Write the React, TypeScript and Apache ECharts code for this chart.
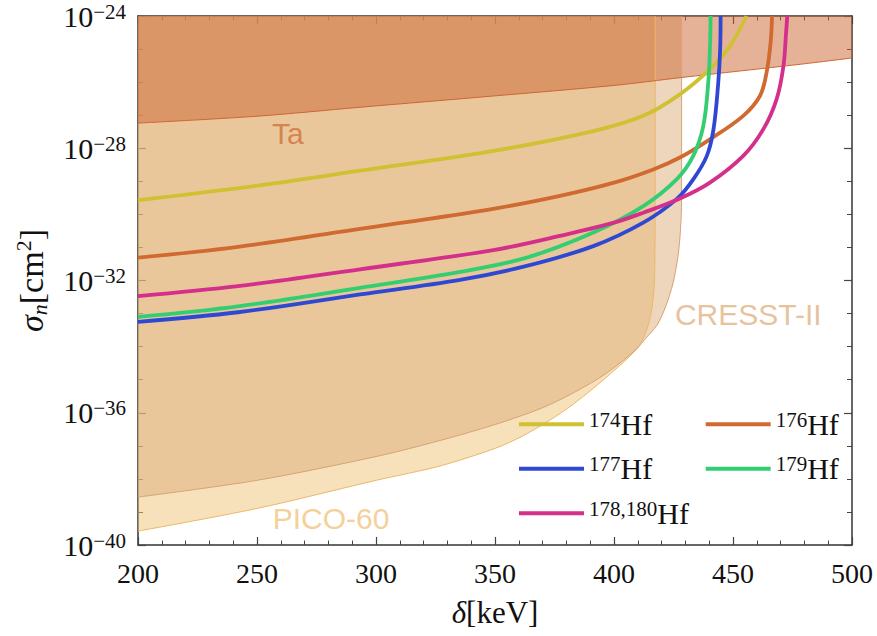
import React, { useEffect, useRef } from "react";
import * as echarts from "echarts";

// x: delta [keV], y: log10(sigma_n / cm^2)
const xTicks = [200, 250, 300, 350, 400, 450, 500];
const yTicks = [-40, -36, -32, -28, -24];

const taBound = [
  [200, -27.24], [250.3, -27.03], [293.3, -26.76], [349.3, -26.42], [400, -26.1],
  [428.4, -25.86], [478.2, -25.46], [500, -25.27],
];
const cresstBound = [
  [200, -38.55], [250.3, -38.04], [300.3, -37.32], [326.9, -36.84], [350.3, -36.35],
  [368.9, -35.88], [382.9, -35.4], [396.9, -34.8], [409.5, -34.07], [413.4, -33.74],
  [418.1, -33.35], [421.8, -32.77], [424.8, -32.08], [426.9, -31.26], [427.9, -30.5],
  [428.4, -29.57], [428.4, -24],
];
const picoBound = [
  [200, -39.58], [250.3, -38.89], [300.3, -38.04], [326.9, -37.61], [350.3, -37.07],
  [361.7, -36.7], [373.1, -36.22], [382.9, -35.74], [396.9, -34.92], [409.5, -34.07],
  [413.7, -33.5], [415.8, -32.89], [416.9, -32.14], [417.2, -31.08], [417.3, -29.57],
  [417.3, -24],
];
const hf174 = [
  [200, -29.57], [250.3, -29.13], [293.3, -28.68], [349.3, -28.08], [391.3, -27.48],
  [412.3, -27.02], [427.7, -26.37], [440.3, -25.61], [448.7, -24.91], [455.7, -24.0],
];
const hf176 = [
  [200, -31.31], [242, -30.98], [293.3, -30.44], [349.3, -29.83], [377.3, -29.44],
  [400, -29.04], [416.5, -28.64], [427.7, -28.28], [440.3, -27.73], [454.3, -27.02],
  [461.3, -26.42], [464.1, -25.71], [465.8, -24.81], [466.4, -24.0],
];
const hf177 = [
  [200, -33.25], [242, -32.96], [293.3, -32.42], [335.3, -31.98], [363.3, -31.56],
  [391.3, -30.96], [412.3, -30.25], [426.3, -29.54], [433.3, -28.94], [439.0, -28.23],
  [441.8, -27.43], [443.8, -26.02], [444.6, -25.01], [444.8, -24.0],
];
const hf179 = [
  [200, -33.1], [242, -32.78], [293.3, -32.22], [335.3, -31.74], [363.3, -31.31],
  [391.3, -30.55], [412.3, -29.75], [426.3, -28.94], [433.3, -28.23], [437.5, -27.33],
  [439.6, -26.02], [440.3, -25.01], [440.6, -24.0],
];
const hf178180 = [
  [200, -32.47], [242, -32.17], [293.3, -31.66], [349.3, -31.08], [377.3, -30.65],
  [400, -30.25], [412.3, -29.95], [427.7, -29.52], [440.3, -29.04], [454.3, -28.23],
  [462.7, -27.43], [468.3, -26.52], [471.2, -25.51], [472.3, -24.5], [472.8, -24.0],
];
const annotations = [
  { name: "Ta", value: [256.3, -27.54], color: "#D0703A" },
  { name: "CRESST-II", value: [425.6, -33.02], color: "#E2B283" },
  { name: "PICO-60", value: [256.6, -39.21], color: "#F1C47E" },
];

const hfSeries = [
  { name: "174", data: hf174, color: "#CFC132" },
  { name: "176", data: hf176, color: "#D06A30" },
  { name: "177", data: hf177, color: "#2E48D4" },
  { name: "179", data: hf179, color: "#33CE72" },
  { name: "178,180", data: hf178180, color: "#D42F8A" },
];

const SERIF = "'Liberation Serif', 'DejaVu Serif', serif";
const SANS = "'Liberation Sans', Arial, sans-serif";

export default function App() {
  const ref = useRef<HTMLDivElement>(null);
  useEffect(() => {
    if (!ref.current) return;
    const chart = echarts.init(ref.current, null, { renderer: "svg" });
    const axisLine = { show: true, onZero: false, lineStyle: { color: "#333", width: 1.5 } };
    const xTick = { show: true, inside: true, length: 8, lineStyle: { color: "#444", width: 1.2 } };
    const xMinor = { show: true, splitNumber: 5, length: 4.5, lineStyle: { color: "#444", width: 1 } };
    const yMinor = { show: true, splitNumber: 4, length: 5, lineStyle: { color: "#444", width: 1 } };
    const legendRich = {
      s: { fontSize: 21, fontFamily: SERIF, color: "#111", lineHeight: 10, verticalAlign: "top" },
      h: { fontSize: 30, fontFamily: SERIF, color: "#111", lineHeight: 30, verticalAlign: "middle" },
    };
    const legendCommon = {
      orient: "vertical",
      padding: 0,
      itemWidth: 65,
      itemHeight: 4,
      itemGap: 14.5,
      icon: "rect",
      top: 409.3,
      formatter: (n: string) => `{s|${n}}{h|Hf}`,
      textStyle: { rich: legendRich },
      selectedMode: false,
    };
    const option: any = {
      animation: false,
      backgroundColor: "#fff",
      grid: { left: 138, top: 16, right: 25, bottom: 91, containLabel: false },
      legend: [
        { ...legendCommon, left: 519, data: ["174", "177", "178,180"] },
        { ...legendCommon, left: 705.7, data: ["176", "179"] },
      ],
      xAxis: [
        {
          type: "value", min: xTicks[0], max: xTicks[xTicks.length - 1], interval: 50,
          axisLine, splitLine: { show: false }, axisTick: xTick, minorTick: xMinor,
          axisLabel: { fontFamily: SERIF, fontSize: 28, color: "#111", margin: 14 },
          name: "{d|δ}{b|[keV]}",
          nameLocation: "middle",
          nameGap: 52,
          nameTextStyle: {
            rich: {
              d: { fontFamily: SERIF, fontStyle: "italic", fontSize: 31, color: "#111" },
              b: { fontFamily: SERIF, fontSize: 31, color: "#111" },
            },
          },
        },
        {
          type: "value", position: "top", min: 200, max: 500, interval: 50,
          axisLine, splitLine: { show: false }, axisTick: xTick, minorTick: xMinor,
          axisLabel: { show: false },
        },
      ],
      yAxis: [
        {
          type: "value", min: yTicks[0], max: yTicks[yTicks.length - 1], interval: 4,
          axisLine, splitLine: { show: false }, axisTick: xTick, minorTick: yMinor,
          axisLabel: {
            margin: 12,
            formatter: (v: number) => `{b|10}{e|−${Math.abs(v)}}`,
            rich: {
              b: { fontFamily: SERIF, fontSize: 30, color: "#111", lineHeight: 30, verticalAlign: "middle" },
              e: { fontFamily: SERIF, fontSize: 21, color: "#111", lineHeight: 15, verticalAlign: "top" },
            },
          },
          name: "{s|σ}{n|n}{b|[cm}{p|2}{b|]}",
          nameLocation: "middle",
          nameRotate: 90,
          nameGap: 88,
          nameTextStyle: {
            rich: {
              s: { fontFamily: SERIF, fontStyle: "italic", fontSize: 34, color: "#111", lineHeight: 38, verticalAlign: "middle" },
              n: { fontFamily: SERIF, fontStyle: "italic", fontSize: 22, color: "#111", lineHeight: 12, verticalAlign: "bottom" },
              b: { fontFamily: SERIF, fontSize: 34, color: "#111", lineHeight: 38, verticalAlign: "middle" },
              p: { fontFamily: SERIF, fontSize: 22, color: "#111", lineHeight: 14, verticalAlign: "top" },
            },
          },
        },
        {
          type: "value", position: "right", min: -40, max: -24, interval: 4,
          axisLine, splitLine: { show: false }, axisTick: xTick, minorTick: yMinor,
          axisLabel: { show: false },
        },
      ],
      series: [
        {
          name: "PICO-60 region", type: "line", data: picoBound, smooth: 0.3, showSymbol: false,
          lineStyle: { color: "#EDB766", width: 1 },
          areaStyle: { origin: "end", color: "rgba(240,195,120,0.5)", opacity: 1 },
          z: 1, silent: true,
        },
        {
          name: "CRESST-II region", type: "line", data: cresstBound, smooth: 0.3, showSymbol: false,
          lineStyle: { color: "#D9A272", width: 1 },
          areaStyle: { origin: "end", color: "rgba(219,173,121,0.5)", opacity: 1 },
          z: 1, silent: true,
        },
        {
          name: "Ta region", type: "line", data: taBound, smooth: 0.3, showSymbol: false,
          lineStyle: { color: "#CC6633", width: 1 },
          areaStyle: { origin: "end", color: "rgba(203,101,49,0.5)", opacity: 1 },
          z: 1, silent: true,
        },
        ...hfSeries.map((s) => ({
          name: s.name, type: "line", data: s.data, smooth: 0.35, showSymbol: false,
          color: s.color, lineStyle: { color: s.color, width: 3.8 }, z: 3, clip: true,
        })),
        {
          name: "labels", type: "scatter", symbolSize: 0, silent: true, z: 5,
          data: annotations.map((a) => ({
            name: a.name, value: a.value,
            label: { color: a.color },
          })),
          label: {
            show: true, position: "right", distance: 0,
            formatter: (p: any) => p.name,
            fontFamily: SANS, fontSize: 30,
          },
        },
      ],
    };
    chart.setOption(option);
    return () => chart.dispose();
  }, []);
  return (
    <div
      ref={ref}
      style={{ position: "fixed", left: 0, top: 0, width: 877, height: 636, background: "#fff" }}
    />
  );
}
